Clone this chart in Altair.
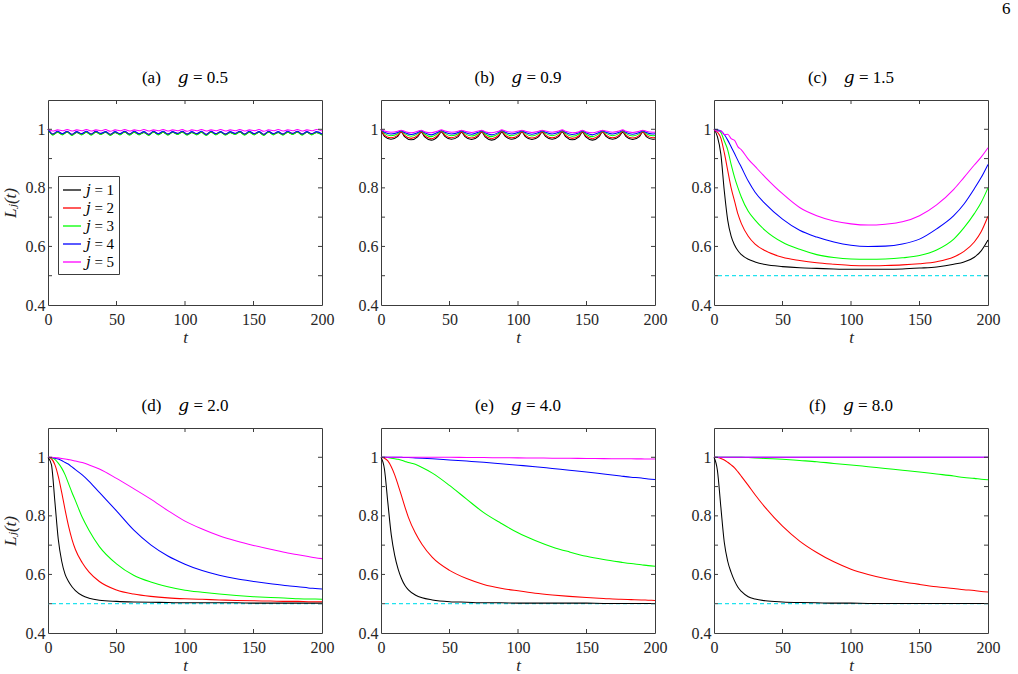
import altair as alt
import pandas as pd

# ---------------- time grids ----------------
T_A = [0, 3.5, 7, 10.5, 14, 17.5, 21, 24.5, 28, 31.5,
       35, 38.5, 42, 45.5, 49, 52.5, 56, 59.5, 63, 66.5,
       70, 73.5, 77, 80.5, 84, 87.5, 91, 94.5, 98, 101.5,
       105, 108.5, 112, 115.5, 119, 122.5, 126, 129.5, 133, 136.5,
       140, 143.5, 147, 150.5, 154, 157.5, 161, 164.5, 168, 171.5,
       175, 178.5, 182, 185.5, 189, 192.5, 196, 200]

T_B = [0, 2.5, 7.3, 12.2, 14.7, 17.2, 22, 26.9, 29.4, 31.9, 36.7, 41.6,
       44.1, 46.6, 51.4, 56.3, 58.8, 61.3, 66.1, 71, 73.5, 76, 80.8, 85.7,
       88.2, 90.7, 95.5, 100.4, 102.9, 105.4, 110.2, 115.1, 117.6, 120.1,
       124.9, 129.8, 132.3, 134.8, 139.6, 144.5, 147, 149.5, 154.3, 159.2,
       161.7, 164.2, 169, 173.9, 176.4, 178.9, 183.7, 188.6, 191.1, 193.6,
       198.4, 200]

T_S = [0, 2.5, 5, 7.5, 10, 12.5, 15, 17.5, 20, 25, 30, 37.5, 50, 62.5, 75,
       87.5, 100, 112.5, 125, 137.5, 150, 162.5, 175, 182.5, 190, 195, 200]

# ---------------- (a) g = 0.5 ----------------
A_1 = [1.000, 0.982, 0.990, 0.983, 0.991, 0.981, 0.989, 0.983, 0.990, 0.982,
       0.991, 0.984, 0.990, 0.981, 0.989, 0.983, 0.991, 0.982, 0.990, 0.983,
       0.989, 0.981, 0.991, 0.983, 0.990, 0.982, 0.990, 0.984, 0.991, 0.982,
       0.989, 0.983, 0.990, 0.981, 0.991, 0.983, 0.990, 0.982, 0.989, 0.984,
       0.991, 0.982, 0.990, 0.983, 0.990, 0.981, 0.991, 0.983, 0.989, 0.982,
       0.990, 0.984, 0.991, 0.982, 0.990, 0.983, 0.989, 0.982]
A_2 = [1.000, 0.983, 0.991, 0.984, 0.992, 0.982, 0.991, 0.984, 0.991, 0.983,
       0.992, 0.984, 0.991, 0.982, 0.990, 0.984, 0.992, 0.983, 0.991, 0.984,
       0.990, 0.982, 0.992, 0.984, 0.991, 0.983, 0.991, 0.985, 0.992, 0.983,
       0.990, 0.984, 0.991, 0.982, 0.992, 0.984, 0.991, 0.983, 0.990, 0.985,
       0.992, 0.983, 0.991, 0.984, 0.991, 0.982, 0.992, 0.984, 0.990, 0.983,
       0.991, 0.985, 0.992, 0.983, 0.991, 0.984, 0.990, 0.983]
A_3 = [1.000, 0.980, 0.990, 0.981, 0.991, 0.979, 0.990, 0.981, 0.990, 0.980,
       0.991, 0.982, 0.990, 0.979, 0.989, 0.981, 0.991, 0.980, 0.990, 0.981,
       0.989, 0.979, 0.991, 0.981, 0.990, 0.980, 0.990, 0.982, 0.991, 0.980,
       0.989, 0.981, 0.990, 0.979, 0.991, 0.981, 0.990, 0.980, 0.989, 0.982,
       0.991, 0.980, 0.990, 0.981, 0.990, 0.979, 0.991, 0.981, 0.989, 0.980,
       0.990, 0.982, 0.991, 0.980, 0.990, 0.981, 0.989, 0.980]
A_4 = [1.000, 0.984, 0.993, 0.985, 0.993, 0.983, 0.992, 0.985, 0.993, 0.984,
       0.993, 0.986, 0.992, 0.983, 0.992, 0.985, 0.993, 0.984, 0.993, 0.985,
       0.992, 0.983, 0.993, 0.985, 0.993, 0.984, 0.992, 0.986, 0.993, 0.984,
       0.992, 0.985, 0.993, 0.983, 0.993, 0.985, 0.992, 0.984, 0.992, 0.986,
       0.993, 0.984, 0.993, 0.985, 0.992, 0.983, 0.993, 0.985, 0.992, 0.984,
       0.993, 0.986, 0.993, 0.984, 0.992, 0.985, 0.992, 0.984]
A_5 = [1.000, 0.994, 0.998, 0.995, 0.999, 0.994, 0.998, 0.995, 0.999, 0.994,
       0.998, 0.995, 0.999, 0.993, 0.998, 0.995, 0.999, 0.994, 0.998, 0.995,
       0.999, 0.994, 0.998, 0.995, 0.999, 0.994, 0.998, 0.995, 0.999, 0.993,
       0.998, 0.995, 0.999, 0.994, 0.998, 0.995, 0.999, 0.994, 0.998, 0.995,
       0.999, 0.994, 0.998, 0.995, 0.999, 0.993, 0.998, 0.995, 0.999, 0.994,
       0.998, 0.995, 0.999, 0.994, 0.998, 0.995, 0.999, 0.994]

# ---------------- (b) g = 0.9 ----------------
B_1 = [1.000, 0.976, 0.966, 0.976, 0.991, 0.975, 0.964, 0.975,
       0.990, 0.974, 0.963, 0.976, 0.991, 0.976, 0.966, 0.975,
       0.990, 0.975, 0.965, 0.976, 0.991, 0.974, 0.963, 0.975,
       0.990, 0.976, 0.966, 0.976, 0.991, 0.975, 0.965, 0.975,
       0.990, 0.976, 0.966, 0.976, 0.991, 0.975, 0.964, 0.974,
       0.990, 0.974, 0.963, 0.975, 0.991, 0.976, 0.966, 0.976,
       0.990, 0.975, 0.965, 0.975, 0.991, 0.975, 0.966, 0.967]
B_2 = [1.000, 0.980, 0.971, 0.979, 0.992, 0.979, 0.969, 0.979,
       0.992, 0.978, 0.968, 0.980, 0.993, 0.980, 0.971, 0.979,
       0.992, 0.979, 0.970, 0.980, 0.992, 0.978, 0.968, 0.979,
       0.993, 0.980, 0.971, 0.980, 0.992, 0.979, 0.970, 0.979,
       0.992, 0.980, 0.971, 0.980, 0.993, 0.979, 0.969, 0.978,
       0.992, 0.978, 0.968, 0.979, 0.992, 0.980, 0.971, 0.980,
       0.993, 0.979, 0.970, 0.979, 0.992, 0.979, 0.971, 0.972]
B_3 = [1.000, 0.986, 0.978, 0.985, 0.994, 0.985, 0.976, 0.985,
       0.994, 0.984, 0.975, 0.986, 0.995, 0.986, 0.978, 0.985,
       0.994, 0.985, 0.977, 0.986, 0.994, 0.984, 0.975, 0.985,
       0.995, 0.986, 0.978, 0.986, 0.994, 0.985, 0.977, 0.985,
       0.994, 0.986, 0.978, 0.986, 0.995, 0.985, 0.976, 0.984,
       0.994, 0.984, 0.975, 0.985, 0.994, 0.986, 0.978, 0.986,
       0.995, 0.985, 0.977, 0.985, 0.994, 0.985, 0.978, 0.979]
B_4 = [1.000, 0.990, 0.984, 0.989, 0.995, 0.989, 0.982, 0.989,
       0.995, 0.988, 0.981, 0.990, 0.996, 0.990, 0.984, 0.989,
       0.995, 0.989, 0.983, 0.990, 0.995, 0.988, 0.981, 0.989,
       0.996, 0.990, 0.984, 0.990, 0.995, 0.989, 0.983, 0.989,
       0.995, 0.990, 0.984, 0.990, 0.996, 0.989, 0.982, 0.988,
       0.995, 0.988, 0.981, 0.989, 0.995, 0.990, 0.984, 0.990,
       0.996, 0.989, 0.983, 0.989, 0.995, 0.989, 0.984, 0.985]
B_5 = [1.000, 0.994, 0.990, 0.993, 0.997, 0.993, 0.988, 0.993,
       0.997, 0.992, 0.988, 0.994, 0.998, 0.994, 0.990, 0.993,
       0.997, 0.993, 0.989, 0.994, 0.997, 0.992, 0.988, 0.993,
       0.998, 0.994, 0.990, 0.994, 0.997, 0.993, 0.989, 0.993,
       0.997, 0.994, 0.990, 0.994, 0.998, 0.993, 0.988, 0.992,
       0.997, 0.992, 0.988, 0.993, 0.997, 0.994, 0.990, 0.994,
       0.998, 0.993, 0.989, 0.993, 0.997, 0.993, 0.990, 0.990]

# ---------------- (c) g = 1.5 ----------------
C_1 = [1.0, 0.975, 0.915, 0.79, 0.69, 0.635, 0.605, 0.585, 0.572, 0.556,
       0.547, 0.538, 0.531, 0.527, 0.525, 0.523, 0.522, 0.522, 0.522, 0.523,
       0.526, 0.53, 0.539, 0.547, 0.563, 0.585, 0.622]
C_2 = [1.0, 0.99, 0.97, 0.92, 0.86, 0.80, 0.755, 0.71, 0.678, 0.635,
       0.608, 0.585, 0.563, 0.552, 0.544, 0.539, 0.535, 0.534, 0.535, 0.537,
       0.541, 0.548, 0.564, 0.583, 0.615, 0.65, 0.703]
C_3 = [1.0, 0.997, 0.989, 0.96, 0.93, 0.88, 0.836, 0.80, 0.768, 0.72,
       0.69, 0.654, 0.614, 0.59, 0.572, 0.562, 0.557, 0.556, 0.557, 0.561,
       0.569, 0.588, 0.625, 0.664, 0.712, 0.75, 0.80]
C_4 = [1.0, 0.998, 0.994, 0.982, 0.963, 0.94, 0.917, 0.893, 0.87, 0.823,
       0.785, 0.745, 0.693, 0.655, 0.632, 0.615, 0.604, 0.60, 0.601, 0.608,
       0.625, 0.66, 0.705, 0.745, 0.797, 0.835, 0.88]
C_5 = [1.0, 0.993, 0.995, 0.982, 0.983, 0.968, 0.962, 0.94, 0.93, 0.898,
       0.873, 0.836, 0.78, 0.733, 0.705, 0.687, 0.677, 0.673, 0.676, 0.684,
       0.705, 0.742, 0.795, 0.836, 0.878, 0.905, 0.937]

# ---------------- (d) g = 2.0 ----------------
D_1 = [1.0, 0.975, 0.85, 0.72, 0.645, 0.6, 0.576, 0.558, 0.545, 0.528,
       0.519, 0.512, 0.508, 0.506, 0.505, 0.504, 0.503, 0.503, 0.503, 0.503,
       0.502, 0.502, 0.502, 0.502, 0.502, 0.502, 0.502]
D_2 = [1.0, 0.995, 0.975, 0.935, 0.88, 0.82, 0.765, 0.72, 0.685, 0.64,
       0.608, 0.576, 0.547, 0.533, 0.525, 0.52, 0.517, 0.515, 0.513, 0.511,
       0.51, 0.509, 0.508, 0.508, 0.507, 0.507, 0.507]
D_3 = [1.0, 0.998, 0.993, 0.98, 0.963, 0.94, 0.91, 0.88, 0.852, 0.795,
       0.75, 0.695, 0.636, 0.597, 0.574, 0.558, 0.546, 0.539, 0.533, 0.528,
       0.524, 0.521, 0.519, 0.517, 0.516, 0.516, 0.515]
D_4 = [1.0, 0.999, 0.997, 0.994, 0.989, 0.982, 0.976, 0.967, 0.958, 0.94,
       0.918, 0.88, 0.817, 0.752, 0.701, 0.663, 0.635, 0.613, 0.597, 0.585,
       0.576, 0.568, 0.561, 0.558, 0.554, 0.552, 0.55]
D_5 = [1.0, 1.0, 0.999, 0.998, 0.996, 0.994, 0.992, 0.99, 0.987, 0.982,
       0.974, 0.96, 0.928, 0.893, 0.857, 0.818, 0.782, 0.755, 0.732, 0.714,
       0.699, 0.686, 0.673, 0.667, 0.661, 0.657, 0.654]

# ---------------- (e) g = 4.0 ----------------
E_1 = [1.0, 0.96, 0.845, 0.735, 0.665, 0.618, 0.585, 0.562, 0.547, 0.53,
       0.52, 0.513, 0.507, 0.505, 0.503, 0.503, 0.502, 0.502, 0.502, 0.502,
       0.502, 0.501, 0.501, 0.501, 0.501, 0.501, 0.501]
E_2 = [1.0, 0.997, 0.988, 0.968, 0.94, 0.905, 0.868, 0.83, 0.795, 0.742,
       0.702, 0.658, 0.614, 0.586, 0.566, 0.553, 0.544, 0.536, 0.53, 0.525,
       0.521, 0.518, 0.515, 0.514, 0.513, 0.512, 0.511]
E_3 = [1.0, 1.0, 0.999, 0.997, 0.995, 0.993, 0.99, 0.986, 0.982, 0.976,
       0.965, 0.946, 0.904, 0.857, 0.811, 0.775, 0.742, 0.716, 0.694, 0.677,
       0.662, 0.651, 0.642, 0.637, 0.633, 0.63, 0.628]
E_4 = [1.0, 1.0, 1.0, 1.0, 1.0, 1.0, 1.0, 0.999, 0.999, 0.998,
       0.997, 0.995, 0.991, 0.987, 0.983, 0.978, 0.973, 0.968, 0.962, 0.956,
       0.95, 0.943, 0.936, 0.932, 0.929, 0.926, 0.924]
E_5 = [1.0, 1.0, 1.0, 1.0, 1.0, 1.0, 1.0, 1.0, 1.0, 1.0,
       1.0, 1.0, 1.0, 0.9995, 0.999, 0.9985, 0.998, 0.9975, 0.997, 0.9965,
       0.996, 0.9955, 0.995, 0.9948, 0.9945, 0.9943, 0.994]

# ---------------- (f) g = 8.0 ----------------
F_1 = [1.0, 0.955, 0.83, 0.71, 0.645, 0.607, 0.578, 0.556, 0.542, 0.524,
       0.516, 0.51, 0.506, 0.504, 0.503, 0.502, 0.502, 0.501, 0.501, 0.501,
       0.501, 0.501, 0.501, 0.501, 0.501, 0.501, 0.501]
F_2 = [1.0, 0.999, 0.996, 0.991, 0.983, 0.974, 0.964, 0.95, 0.935, 0.904,
       0.872, 0.828, 0.765, 0.714, 0.675, 0.643, 0.618, 0.6, 0.586, 0.575,
       0.566, 0.558, 0.552, 0.548, 0.545, 0.542, 0.54]
F_3 = [1.0, 1.0, 1.0, 1.0, 1.0, 1.0, 1.0, 1.0, 1.0, 0.999,
       0.998, 0.996, 0.993, 0.989, 0.985, 0.979, 0.974, 0.968, 0.962, 0.956,
       0.95, 0.943, 0.936, 0.931, 0.928, 0.925, 0.923]
F_4 = [1.0, 1.0, 1.0, 1.0, 1.0, 1.0, 1.0, 1.0, 1.0, 1.0,
       1.0, 1.0, 1.0, 1.0, 1.0, 1.0, 1.0, 1.0, 1.0, 1.0,
       1.0, 1.0, 1.0, 1.0, 1.0, 1.0, 1.0]
F_5 = [1.0, 1.0, 1.0, 1.0, 1.0, 1.0, 1.0, 1.0, 1.0, 1.0,
       1.0, 1.0, 1.0, 1.0, 1.0, 1.0, 1.0, 1.0, 1.0, 1.0,
       1.0, 1.0, 1.0, 1.0, 1.0, 1.0, 1.0]

# ---------------- labels, ticks, styling ----------------
SERIES_LABELS = ["\U0001D457 = 1", "\U0001D457 = 2", "\U0001D457 = 3",
                 "\U0001D457 = 4", "\U0001D457 = 5"]
SERIES_COLORS = ["#000000", "#ff0000", "#00ff00", "#0000ff", "#ff00ff"]

PANELS = [
    ("(a)", "0.5", T_A, [A_1, A_2, A_3, A_4, A_5], False),
    ("(b)", "0.9", T_B, [B_1, B_2, B_3, B_4, B_5], False),
    ("(c)", "1.5", T_S, [C_1, C_2, C_3, C_4, C_5], True),
    ("(d)", "2.0", T_S, [D_1, D_2, D_3, D_4, D_5], True),
    ("(e)", "4.0", T_S, [E_1, E_2, E_3, E_4, E_5], True),
    ("(f)", "8.0", T_S, [F_1, F_2, F_3, F_4, F_5], True),
]

X_LABEL_VALUES = [0, 50, 100, 150, 200]
Y_LABEL_VALUES = [0.4, 0.6, 0.8, 1.0]
X_MINOR = [50, 100, 150]
Y_MINOR = [0.5, 0.6, 0.7, 0.8, 0.9, 1.0]
STEADY_LEVEL = [0.5]

W, H = 274, 205
TICK = 4
FRAME = "#3c3c3c"
TEXT = "#262626"
SERIF = "Liberation Serif, DejaVu Serif, serif"


def make_panel(i):
    tag, g, times, series, dashed = PANELS[i]
    left_col = i in (0, 3)

    xs = alt.Scale(domain=[0, 200], nice=False, zero=False)
    ys = alt.Scale(domain=[0.4, 1.1], nice=False, zero=False)
    cs = alt.Scale(domain=SERIES_LABELS, range=SERIES_COLORS)
    x_axis = alt.Axis(values=X_LABEL_VALUES, title="t", ticks=False, domain=False,
                      grid=False, labelFlush=False, labelOverlap=False,
                      labelPadding=6, titlePadding=2, titleFontStyle="italic")
    y_axis = alt.Axis(values=Y_LABEL_VALUES, format="~g",
                      title="L\u2C7C(t)" if left_col else "",
                      ticks=False, domain=False, grid=False, labelFlush=False,
                      labelOverlap=False, labelPadding=3, titlePadding=6,
                      titleFontStyle="italic")

    if i == 0:
        legend = alt.Legend(title=None, orient="none", legendX=10, legendY=76,
                            symbolType="stroke", symbolSize=324,
                            symbolStrokeWidth=1.3, labelFontSize=15,
                            labelFont=SERIF, labelColor="#000000",
                            rowPadding=0, padding=4, labelOffset=4,
                            strokeColor=FRAME, fillColor="#ffffff",
                            cornerRadius=0)
    else:
        legend = None

    layers = []
    if dashed:
        layers.append(
            alt.Chart(pd.DataFrame({"L": STEADY_LEVEL})).mark_rule(
                color="#22e2ee", strokeWidth=1.2, strokeDash=[4, 3]).encode(
                y=alt.Y("L:Q", scale=ys, axis=y_axis))
        )

    # one layer per series so that j = 5 is painted last (on top)
    for k, vals in enumerate(series):
        df = pd.DataFrame({"t": times, "L": vals, "j": SERIES_LABELS[k]})
        layers.append(
            alt.Chart(df).mark_line(strokeWidth=1.05, interpolate="monotone").encode(
                x=alt.X("t:Q", scale=xs, axis=x_axis),
                y=alt.Y("L:Q", scale=ys, axis=y_axis),
                color=alt.Color("j:N", scale=cs, legend=legend),
            )
        )

    xt = pd.DataFrame({"t": X_MINOR})
    yt = pd.DataFrame({"L": Y_MINOR})
    layers += [
        alt.Chart(xt).mark_rule(color=FRAME, strokeWidth=1).encode(
            x=alt.X("t:Q", scale=xs, axis=x_axis), y=alt.value(H), y2=alt.value(H - TICK)),
        alt.Chart(xt).mark_rule(color=FRAME, strokeWidth=1).encode(
            x=alt.X("t:Q", scale=xs, axis=x_axis), y=alt.value(0), y2=alt.value(TICK)),
        alt.Chart(yt).mark_rule(color=FRAME, strokeWidth=1).encode(
            y=alt.Y("L:Q", scale=ys, axis=y_axis), x=alt.value(0), x2=alt.value(TICK)),
        alt.Chart(yt).mark_rule(color=FRAME, strokeWidth=1).encode(
            y=alt.Y("L:Q", scale=ys, axis=y_axis), x=alt.value(W), x2=alt.value(W - TICK)),
    ]

    title = alt.TitleParams(
        text=tag + "\u2003\U0001D454 = " + g,
        font=SERIF, fontSize=17, fontWeight="normal", color="#000000",
        offset=13, anchor="middle",
    )
    return alt.layer(*layers).properties(width=W, height=H, title=title)


panels = [make_panel(i) for i in range(6)]

row1 = alt.hconcat(*panels[:3], spacing=22).resolve_scale(color="independent").resolve_legend(color="independent")
row2 = alt.hconcat(*panels[3:], spacing=22).resolve_scale(color="independent").resolve_legend(color="independent")

chart = (
    alt.vconcat(row1, row2, spacing=50)
    .resolve_scale(color="independent")
    .resolve_legend(color="independent")
    .properties(
        title=alt.TitleParams(text="6", anchor="end", font=SERIF, fontSize=17,
                              fontWeight="normal", color="#000000", offset=50, dx=10),
        padding={"left": 0, "top": 0, "right": 3, "bottom": 2},
        background="#ffffff",
    )
    .configure_view(stroke=FRAME, strokeWidth=1)
    .configure_axis(labelFont=SERIF, labelFontSize=16, labelColor=TEXT,
                    titleFont=SERIF, titleFontSize=17, titleColor=TEXT,
                    titleFontWeight="normal")
)

chart.save("out.html", embed_options={"renderer": "svg", "actions": False})
